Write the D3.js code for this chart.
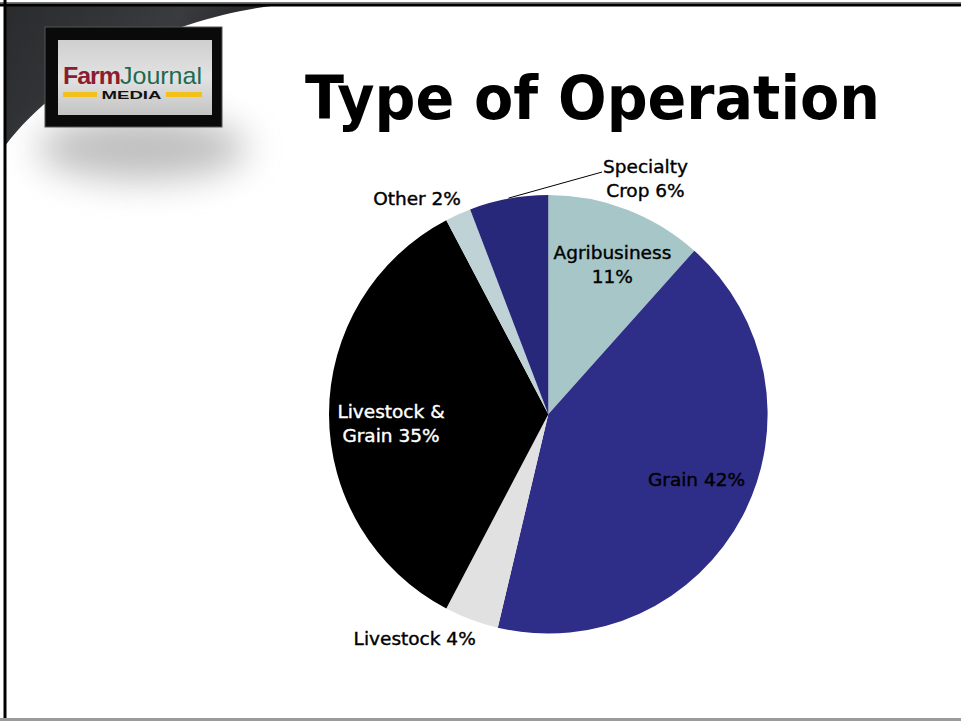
<!DOCTYPE html>
<html>
<head>
<meta charset="utf-8">
<script src="https://cdn.jsdelivr.net/npm/d3@7"></script>
<style>
  html, body { margin: 0; padding: 0; background: #fff; }
  svg { display: block; }
</style>
</head>
<body>
<div id="chart"></div>
<script>
// ---- Data ----
const categories = ["Agribusiness", "Grain", "Livestock", "Livestock & Grain", "Other", "Specialty Crop"];
const shares = [11.6, 42.1, 4.0, 34.6, 1.9, 5.8];          // slice sizes
const labelPercents = [11, 42, 4, 35, 2, 6];                // printed percentages
const labelLines = [
  ["Agribusiness", "11%"],
  ["Grain 42%"],
  ["Livestock 4%"],
  ["Livestock &", "Grain 35%"],
  ["Other 2%"],
  ["Specialty", "Crop 6%"]
];
const sliceColors = ["#a6c6c8", "#2e2d87", "#e1e1e1", "#000000", "#bfd3d6", "#28287b"];
const title = "Type of Operation";

// ---- Layout ----
const W = 961, H = 721;
const cx = 548.3, cy = 414.3, R = 219.3;
// label anchor in polar coords (deg clockwise from 12 o'clock, radius px)
const labelPolar = {
  "Agribusiness": [23.1, 163.4],
  "Grain": [113.7, 161.9],
  "Livestock": [210.8, 261],
  "Livestock & Grain": [266.7, 157.6],
  "Other": [328.7, 252.6],
  "Specialty Crop": [22.4, 255]
};

const svg = d3.select("#chart").append("svg")
  .attr("width", W).attr("height", H);

const defs = svg.append("defs");
const sg = defs.append("linearGradient").attr("id", "swoosh")
  .attr("x1", "0").attr("y1", "0").attr("x2", "1").attr("y2", "0.3");
sg.append("stop").attr("offset", "0").attr("stop-color", "#2a2b2d");
sg.append("stop").attr("offset", "0.6").attr("stop-color", "#3a3b3e");
sg.append("stop").attr("offset", "1").attr("stop-color", "#1c1c1e");

const lg = defs.append("linearGradient").attr("id", "logoBg")
  .attr("x1", "0").attr("y1", "0").attr("x2", "0").attr("y2", "1");
lg.append("stop").attr("offset", "0").attr("stop-color", "#cfcfcf");
lg.append("stop").attr("offset", "0.5").attr("stop-color", "#e2e2e2");
lg.append("stop").attr("offset", "1").attr("stop-color", "#c4c4c4");

const blur = defs.append("filter").attr("id", "blur")
  .attr("x", "-50%").attr("y", "-100%").attr("width", "200%").attr("height", "300%");
blur.append("feGaussianBlur").attr("stdDeviation", 18);

// ---- slide frame ----
svg.append("rect").attr("x", 0).attr("y", 0).attr("width", W).attr("height", H).attr("fill", "#fff");
svg.append("path")
  .attr("d", "M5,5 L280,5 C190,14 70,60 5,146 Z")
  .attr("fill", "url(#swoosh)");
svg.append("rect").attr("x", 0).attr("y", 2).attr("width", W).attr("height", 1.5).attr("fill", "#777");
svg.append("rect").attr("x", 0).attr("y", 3.5).attr("width", W).attr("height", 3).attr("fill", "#000");
svg.append("rect").attr("x", 3.5).attr("y", 0).attr("width", 3).attr("height", H).attr("fill", "#000");
svg.append("rect").attr("x", 0).attr("y", 718).attr("width", W).attr("height", 3).attr("fill", "#9a9a9a");

// ---- logo ----
svg.append("ellipse").attr("cx", 142).attr("cy", 148).attr("rx", 105).attr("ry", 32)
  .attr("fill", "#8a8a8a").attr("opacity", 0.55).attr("filter", "url(#blur)");
svg.append("rect").attr("x", 45).attr("y", 27).attr("width", 177).attr("height", 100)
  .attr("fill", "#0a0a0a").attr("stroke", "#555").attr("stroke-width", 1);
svg.append("rect").attr("x", 58).attr("y", 40).attr("width", 154).attr("height", 75)
  .attr("fill", "url(#logoBg)");
const logoText = svg.append("text").attr("x", 63).attr("y", 84)
  .attr("font-family", "Liberation Sans, Arial, sans-serif").attr("font-size", 24)
  .attr("textLength", 139).attr("lengthAdjust", "spacingAndGlyphs");
logoText.append("tspan").attr("fill", "#8c1d2f").attr("font-weight", "bold").attr("letter-spacing", -1).text("Farm");
logoText.append("tspan").attr("fill", "#1d6b4e").text("Journal");
svg.append("rect").attr("x", 63).attr("y", 92).attr("width", 34).attr("height", 5).attr("fill", "#f2c21b");
svg.append("rect").attr("x", 166).attr("y", 92).attr("width", 36).attr("height", 5).attr("fill", "#f2c21b");
svg.append("text").attr("x", 131.5).attr("y", 98.5).attr("text-anchor", "middle")
  .attr("font-family", "Liberation Sans, Arial, sans-serif").attr("font-weight", "bold")
  .attr("font-size", 11).attr("fill", "#111").attr("textLength", 60).attr("lengthAdjust", "spacingAndGlyphs")
  .text("MEDIA");

// ---- title ----
svg.append("text").attr("x", 592.5).attr("y", 119).attr("text-anchor", "middle")
  .attr("font-family", "DejaVu Sans, Verdana, sans-serif").attr("font-weight", "bold")
  .attr("font-size", 60).attr("fill", "#000")
  .attr("textLength", 575).attr("lengthAdjust", "spacingAndGlyphs")
  .text(title);

// ---- pie ----
const data = categories.map((c, i) => ({ cat: c, value: shares[i], pct: labelPercents[i], lines: labelLines[i], color: sliceColors[i] }));
const pie = d3.pie().value(d => d.value).sort(null).startAngle(0).endAngle(2 * Math.PI);
const arc = d3.arc().innerRadius(0).outerRadius(R);
const arcs = pie(data);

const g = svg.append("g").attr("transform", `translate(${cx},${cy})`);
g.selectAll("path.slice").data(arcs).join("path")
  .attr("class", "slice")
  .attr("d", arc)
  .attr("fill", d => d.data.color);

// ---- labels ----
const fontSize = 18.5, lineH = 24;
const toXY = (deg, r) => [r * Math.sin(deg * Math.PI / 180), -r * Math.cos(deg * Math.PI / 180)];

arcs.forEach(a => {
  const [deg, r] = labelPolar[a.data.cat];
  const [lx, ly] = toXY(deg, r);
  const n = a.data.lines.length;
  const firstBase = ly - (n - 1) * lineH / 2 + 6.5;
  const fill = a.data.color === "#000000" ? "#fff" : "#000";
  const t = g.append("text")
    .attr("text-anchor", "middle")
    .attr("font-family", "DejaVu Sans, Verdana, sans-serif")
    .attr("font-size", fontSize)
    .attr("fill", fill)
    .attr("stroke", fill).attr("stroke-width", 0.4);
  a.data.lines.forEach((ln, i) => {
    t.append("tspan").attr("x", lx).attr("y", firstBase + i * lineH).text(ln);
  });
  // leader line for label placed away from its slice
  if (a.data.cat === "Specialty Crop") {
    const mid = (a.startAngle + a.endAngle) / 2 * 180 / Math.PI;
    const [sx, sy] = toXY(mid, R + 0.5);
    const w = t.node().getBBox().width;
    const ex = lx - w / 2 - 1, ey = firstBase - 1;
    g.append("line").attr("x1", sx).attr("y1", sy).attr("x2", ex).attr("y2", ey)
      .attr("stroke", "#000").attr("stroke-width", 1);
  }
});
</script>
</body>
</html>
